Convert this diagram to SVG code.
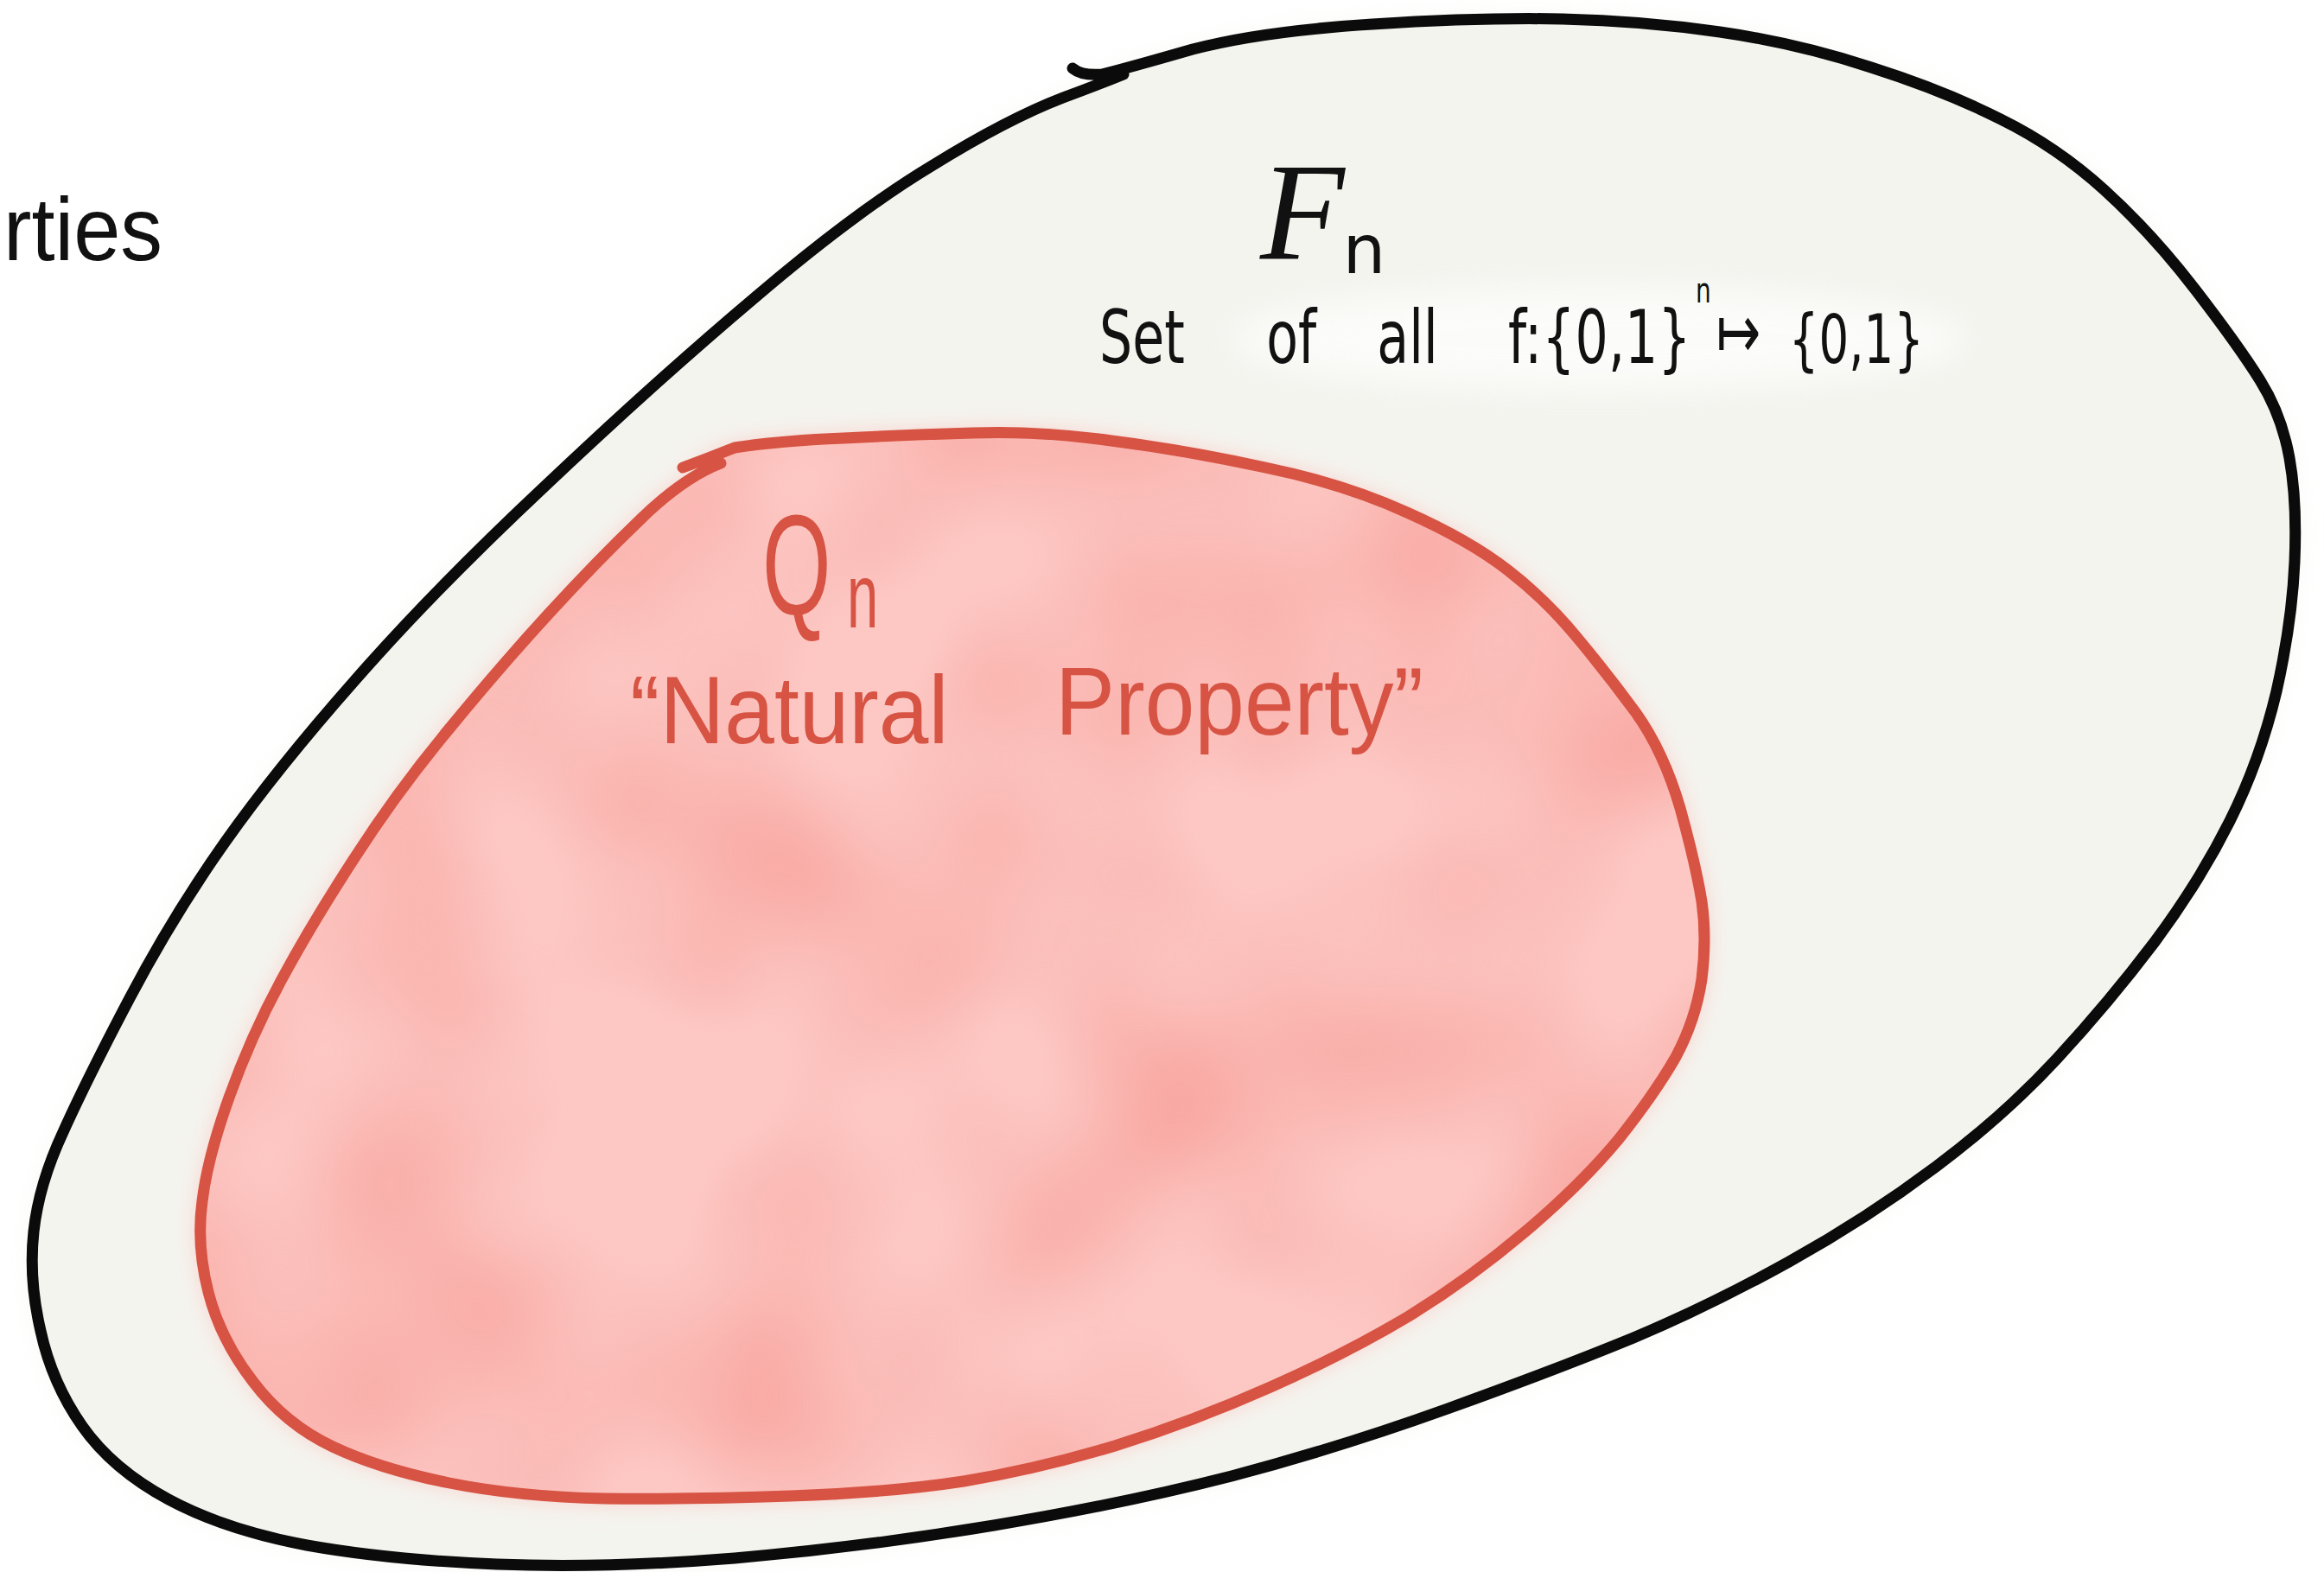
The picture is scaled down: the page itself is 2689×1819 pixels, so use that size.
<svg xmlns="http://www.w3.org/2000/svg" xmlns:xlink="http://www.w3.org/1999/xlink" width="2689" height="1819" viewBox="0 0 2689 1819">
<style>
.outline{fill:none;stroke:#0b0b0b;stroke-width:13;stroke-linecap:round;stroke-linejoin:round}
.redline{fill:none;stroke:#d75343;stroke-width:13;stroke-linecap:round;stroke-linejoin:round}
.hand{font-family:"DejaVu Sans","Liberation Sans",sans-serif;fill:#111111}
.redtxt{font-family:"Liberation Sans","DejaVu Sans",sans-serif;fill:#d75343}
.title{font-family:"Liberation Sans","Noto Sans",sans-serif;fill:#111111}
</style>
<defs>
<path id="outerP" d="M1241,79 Q1252,88 1275,86 Q1300,80 1380,57 Q1460,36 1588,28 Q1715,20 1808,22 Q1900,24 1990,37 Q2080,50 2165,78 Q2250,105 2315,138 Q2380,170 2435,220 Q2490,270 2540,335 Q2590,400 2615,440 Q2640,480 2649,530 Q2658,580 2655,650 Q2652,720 2634,800 Q2615,880 2580,950 Q2545,1020 2493,1090 Q2440,1160 2380,1225 Q2320,1290 2240,1350 Q2160,1410 2070,1460 Q1980,1510 1890,1548 Q1800,1585 1675,1630 Q1550,1675 1425,1708 Q1300,1740 1150,1765 Q1000,1790 850,1803 Q700,1815 575,1810 Q450,1805 355,1788 Q260,1770 195,1735 Q130,1700 95,1650 Q60,1600 47,1540 Q33,1480 39,1425 Q45,1370 73,1310 Q100,1250 150,1155 Q200,1060 260,975 Q320,890 410,788 Q500,685 630,563 Q760,440 875,343 Q990,245 1078,192 Q1165,138 1230,113 Q1268,99 1300,86"/>
<path id="innerP" d="M790,541 Q820,530 850,518 Q902,510 976,507 Q1050,503 1125,501 Q1200,498 1286,510 Q1372,521 1464,541 Q1556,560 1628,593 Q1700,625 1745,660 Q1790,695 1825,738 Q1860,780 1893,825 Q1925,870 1944,935 Q1962,1000 1969,1043 Q1975,1085 1969,1133 Q1962,1180 1939,1223 Q1915,1265 1873,1318 Q1830,1370 1765,1425 Q1700,1480 1630,1523 Q1560,1565 1470,1605 Q1380,1645 1290,1673 Q1200,1700 1115,1714 Q1030,1727 915,1731 Q800,1735 700,1734 Q600,1732 520,1716 Q440,1700 385,1674 Q330,1648 293,1599 Q255,1550 241,1495 Q227,1440 234,1390 Q240,1340 265,1270 Q290,1200 325,1135 Q360,1070 410,993 Q460,915 520,843 Q580,770 635,710 Q690,650 740,602 Q790,553 834,536"/>
<clipPath id="innerClip"><use xlink:href="#innerP"/></clipPath>
<filter id="soft" x="-10%" y="-10%" width="120%" height="120%"><feGaussianBlur stdDeviation="15"/></filter>
<filter id="softW" x="-20%" y="-50%" width="140%" height="200%"><feGaussianBlur stdDeviation="18"/></filter>
<filter id="blotch" x="0" y="0" width="1" height="1" color-interpolation-filters="sRGB">
<feTurbulence type="fractalNoise" baseFrequency="0.0035" numOctaves="2" seed="11"/>
<feColorMatrix type="matrix" values="0 0 0 0 0.973  0 0 0 0 0.647  0 0 0 0 0.624  2 0 0 0 -0.72"/>
<feGaussianBlur stdDeviation="12"/>
</filter>
</defs>
<rect x="0" y="0" width="2689" height="1819" fill="#ffffff"/>

<g id="title">
<text class="title" x="4" y="301" font-size="104" textLength="184" lengthAdjust="spacingAndGlyphs">rties</text>
</g>

<g id="node-Fn">
<use xlink:href="#outerP" fill="#f0f0ea" filter="url(#soft)" opacity="0.6"/>
<use xlink:href="#outerP" fill="#f4f4ef"/>
<ellipse cx="1850" cy="392" rx="420" ry="55" fill="#ffffff" opacity="0.7" filter="url(#softW)"/>
<use xlink:href="#outerP" class="outline"/>
<text x="1458" y="299" font-size="160" font-style="italic" fill="#111111" style="font-family:'Liberation Serif','DejaVu Serif',serif">F<tspan dx="-2" dy="17" font-size="78" font-style="normal" style="font-family:'DejaVu Sans',sans-serif">n</tspan></text>
<text class="hand" transform="translate(1272,420) scale(0.7,1)" font-size="86"><tspan x="0" y="0">Set</tspan> <tspan x="276" y="0">of</tspan> <tspan x="459" y="0">all</tspan></text>
<text class="hand" transform="translate(1745,420) scale(0.7,1)" font-size="86"><tspan x="0" y="0">f:{0,1}</tspan><tspan x="310" y="-70" font-size="40">n</tspan> <tspan x="344" y="-6" font-size="88">↦</tspan> <tspan x="464" y="0" font-size="78">{0,1}</tspan></text>
</g>

<g id="node-Qn">
<use xlink:href="#innerP" fill="#fcc2bd" filter="url(#soft)"/>
<use xlink:href="#innerP" fill="#fdc8c4"/>
<g clip-path="url(#innerClip)">
<rect x="220" y="490" width="1770" height="1260" fill="#000000" filter="url(#blotch)"/>
</g>
<use xlink:href="#innerP" class="redline"/>
<text class="redtxt" transform="translate(882,711) scale(0.62,1)" font-size="165">Q<tspan x="158" y="15" font-size="105">n</tspan></text>
<text class="redtxt" transform="translate(729,860) scale(0.925,1)" font-size="112"><tspan x="0" y="0">“Natural</tspan> <tspan x="532" y="-10">Property”</tspan></text>
</g>

<g id="connectors"></g>
</svg>
